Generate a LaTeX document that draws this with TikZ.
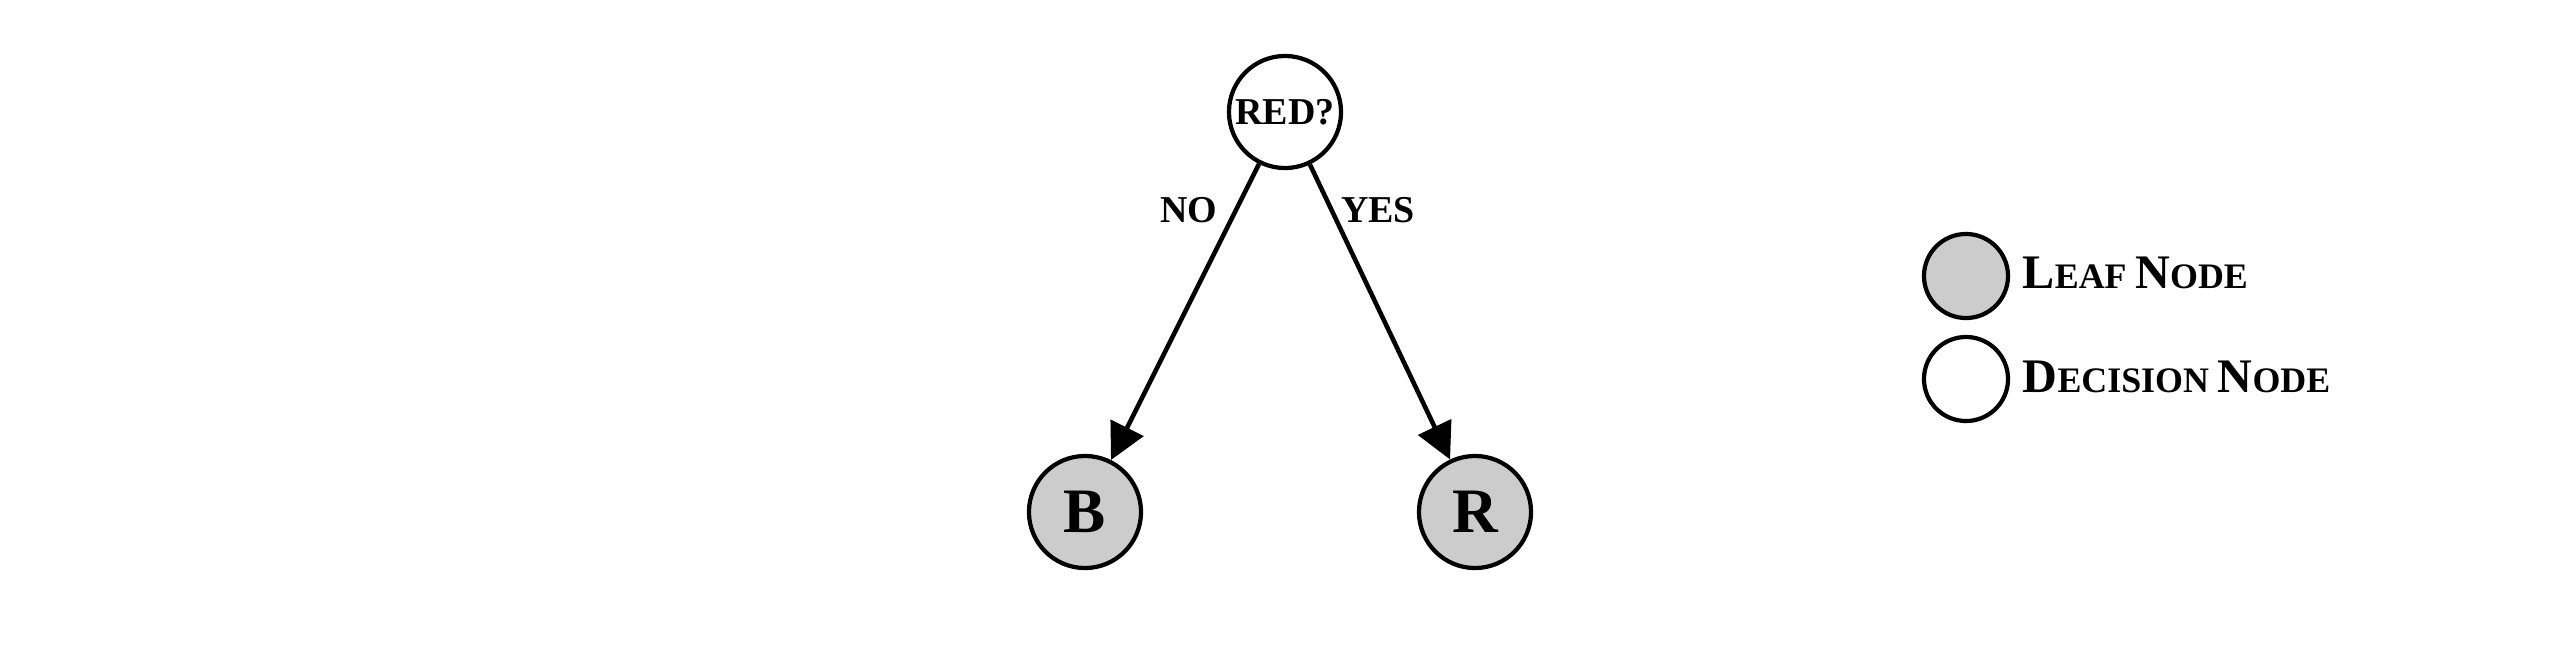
\documentclass[tikz,border=0pt]{standalone}
\usepackage{fontspec}
\setmainfont{Liberation Serif}
\usetikzlibrary{arrows.meta,shapes.geometric}
\definecolor{leafgray}{HTML}{CCCCCC}
\newcommand\BigC[1]{{\fontsize{13.7}{14}\selectfont #1}}
\newcommand\SmallC[1]{{\fontsize{10.2}{10}\selectfont #1}}
\begin{document}
\begin{tikzpicture}[x=0.01cm,y=-0.01cm,
  every node/.style={font=\bfseries},
  decision/.style={circle,draw=black,line width=1.2pt,fill=white,inner sep=0pt,minimum size=1.12cm},
  leaf/.style={circle,draw=black,line width=1.2pt,fill=leafgray,inner sep=0pt,minimum size=1.12cm},
  legleaf/.style={circle,draw=black,line width=1.2pt,fill=leafgray,inner sep=0pt,minimum size=0.84cm},
  legdec/.style={circle,draw=black,line width=1.2pt,fill=white,inner sep=0pt,minimum size=0.84cm},
  edge/.style={line width=1.3pt,-{Triangle[length=0.36cm,width=0.36cm]}},
  elabel/.style={font=\bfseries\fontsize{10.8}{11}\selectfont,inner sep=0pt}
]
\useasboundingbox (0,0) rectangle (2568,654);
\node[decision,font=\bfseries\fontsize{10.8}{11}\selectfont] (red) at (1285,112) {RED?};
\node[leaf,font=\bfseries\fontsize{18}{18}\selectfont] (b) at (1085,512) {B};
\node[leaf,font=\bfseries\fontsize{18}{18}\selectfont] (r) at (1475,512) {R};
\draw[edge] (red) -- (b);
\draw[edge] (red) -- (r);
\node[elabel] (no) at (1189,210) {NO};
\node[elabel] (yes) at (1378,210) {YES};
\node[legleaf] (ll) at (1966,276) {};
\node[legdec] (ld) at (1966,379) {};
\node[anchor=base west,inner sep=0pt] (lt) at (2022,288) {\BigC{L}\SmallC{EAF} \BigC{N}\SmallC{ODE}};
\node[anchor=base west,inner sep=0pt] (dt) at (2022,392) {\BigC{D}\SmallC{ECISION} \BigC{N}\SmallC{ODE}};
\end{tikzpicture}
\end{document}
